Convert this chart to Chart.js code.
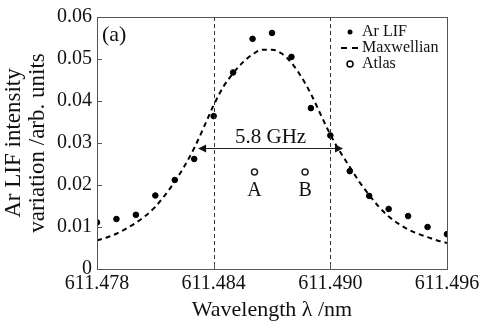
<!DOCTYPE html>
<html>
<head>
<meta charset="utf-8">
<script src="https://cdn.jsdelivr.net/npm/chart.js@4"></script>
<style>
  html, body { margin: 0; padding: 0; background: #fff; }
  #wrap { width: 484px; height: 328px; }
</style>
</head>
<body>
<div id="wrap"><canvas id="c" width="484" height="328"></canvas></div>
<script>
// ---- data ----
const lifWavelength = [611.478, 611.479, 611.480, 611.481, 611.482, 611.483, 611.484, 611.485, 611.486, 611.487,
                       611.488, 611.489, 611.490, 611.491, 611.492, 611.493, 611.494, 611.495, 611.496];
const lifIntensity  = [0.0111, 0.0119, 0.0129, 0.0175, 0.0212, 0.0262, 0.0364, 0.0468, 0.0548, 0.0562,
                       0.0505, 0.0383, 0.0318, 0.0233, 0.0174, 0.0143, 0.0126, 0.0100, 0.0083];

const maxwellWavelength = [611.4780, 611.4785, 611.4790, 611.4795, 611.4800, 611.4805, 611.4810, 611.4815, 611.4820,
                           611.4825, 611.4830, 611.4835, 611.4840, 611.4845, 611.4850, 611.4855, 611.4860, 611.4865,
                           611.4870, 611.4875, 611.4880, 611.4885, 611.4890, 611.4895, 611.4900, 611.4905, 611.4910,
                           611.4915, 611.4920, 611.4925, 611.4930, 611.4935, 611.4940, 611.4945, 611.4950, 611.4955,
                           611.4960];
const maxwellIntensity  = [0.0068, 0.0075, 0.0084, 0.0096, 0.0110, 0.0127, 0.0148, 0.0176, 0.0208,
                           0.0245, 0.0288, 0.0338, 0.0390, 0.0434, 0.0466, 0.0492, 0.0511, 0.0522,
                           0.0522, 0.0513, 0.0491, 0.0458, 0.0417, 0.0368, 0.0320, 0.0279, 0.0243,
                           0.0207, 0.0176, 0.0148, 0.0125, 0.0108, 0.0094, 0.0084, 0.0076, 0.0068,
                           0.0062];

const atlasWavelength = [611.4861, 611.4887];
const atlasIntensity  = [0.0231, 0.0231];
const atlasLabels     = ['A', 'B'];

const markerWavelength = [611.484, 611.490];
const widthLabel = '5.8 GHz';
const widthLevel = 0.0288;
const widthArrowEnds = [611.4832, 611.49065];

const xTickValues = [611.478, 611.484, 611.490, 611.496];
const yTickValues = [0, 0.01, 0.02, 0.03, 0.04, 0.05, 0.06];

const xTitle = 'Wavelength \u03bb /nm';
const yTitle = ['Ar LIF intensity', 'variation /arb. units'];
const panelLabel = '(a)';
const legendLabels = ['Ar LIF', 'Maxwellian', 'Atlas'];

// ---- chart ----
const FONT = "'Liberation Serif', 'Times New Roman', serif";
const INK = '#111';
const AXIS = '#555';

const toXY = (xs, ys) => xs.map((x, i) => ({ x: x, y: ys[i] }));

const overlay = {
  id: 'overlay',
  afterDatasetsDraw(chart) {
    const ctx = chart.ctx;
    const xs = chart.scales.x, ys = chart.scales.y;
    const a = chart.chartArea;
    ctx.save();

    // vertical dashed marker lines
    ctx.strokeStyle = '#333';
    ctx.lineWidth = 1;
    ctx.setLineDash([4, 3]);
    markerWavelength.forEach(w => {
      const px = Math.round(xs.getPixelForValue(w)) + 0.5;
      ctx.beginPath();
      ctx.moveTo(px, a.top);
      ctx.lineTo(px, a.bottom);
      ctx.stroke();
    });
    ctx.setLineDash([]);

    // double arrow
    const ay = Math.round(ys.getPixelForValue(widthLevel)) + 0.5;
    const x1 = xs.getPixelForValue(widthArrowEnds[0]);
    const x2 = xs.getPixelForValue(widthArrowEnds[1]);
    const hl = 8, hw = 4;
    ctx.strokeStyle = '#222';
    ctx.fillStyle = '#111';
    ctx.lineWidth = 1;
    ctx.beginPath();
    ctx.moveTo(x1 + hl, ay);
    ctx.lineTo(x2 - hl, ay);
    ctx.stroke();
    ctx.beginPath();
    ctx.moveTo(x1, ay); ctx.lineTo(x1 + hl, ay - hw); ctx.lineTo(x1 + hl, ay + hw); ctx.closePath();
    ctx.fill();
    ctx.beginPath();
    ctx.moveTo(x2, ay); ctx.lineTo(x2 - hl, ay - hw); ctx.lineTo(x2 - hl, ay + hw); ctx.closePath();
    ctx.fill();

    ctx.fillStyle = INK;
    ctx.font = '21px ' + FONT;
    ctx.textAlign = 'center';
    ctx.textBaseline = 'alphabetic';
    ctx.fillText(widthLabel, (x1 + x2) / 2, ay - 6);

    // A / B labels
    ctx.font = '20px ' + FONT;
    ctx.textBaseline = 'top';
    atlasWavelength.forEach((w, i) => {
      const px = xs.getPixelForValue(w);
      const py = ys.getPixelForValue(atlasIntensity[i]);
      ctx.fillText(atlasLabels[i], px, py + 9);
    });

    // panel label
    ctx.textAlign = 'left';
    ctx.textBaseline = 'middle';
    ctx.font = '22px ' + FONT;
    ctx.fillText(panelLabel, a.left + 5, a.top + 18);

    // legend
    const lx = a.right - 97, tx = a.right - 85;
    const rows = [a.top + 15, a.top + 31, a.top + 47];
    ctx.font = '16px ' + FONT;
    ctx.textBaseline = 'middle';
    rows.forEach((ry, i) => ctx.fillText(legendLabels[i], tx, ry));
    ctx.fillStyle = '#000';
    ctx.beginPath(); ctx.arc(lx, rows[0], 2.5, 0, Math.PI * 2); ctx.fill();
    ctx.strokeStyle = '#000';
    ctx.lineWidth = 2;
    ctx.beginPath();
    ctx.moveTo(lx - 9, rows[1]); ctx.lineTo(lx - 3, rows[1]);
    ctx.moveTo(lx + 2, rows[1]); ctx.lineTo(lx + 8, rows[1]);
    ctx.stroke();
    ctx.lineWidth = 1.5;
    ctx.beginPath(); ctx.arc(lx, rows[2], 3, 0, Math.PI * 2); ctx.stroke();

    // frame
    ctx.strokeStyle = AXIS;
    ctx.lineWidth = 1;
    ctx.strokeRect(Math.round(a.left) + 0.5, Math.round(a.top) + 0.5,
                   Math.round(a.right - a.left), Math.round(a.bottom - a.top));
    // inward ticks
    ctx.beginPath();
    yTickValues.forEach(v => {
      const py = Math.round(ys.getPixelForValue(v)) + 0.5;
      ctx.moveTo(a.left, py); ctx.lineTo(a.left + 5, py);
    });
    xTickValues.forEach(v => {
      const px = Math.round(xs.getPixelForValue(v)) + 0.5;
      ctx.moveTo(px, a.bottom); ctx.lineTo(px, a.bottom - 5);
    });
    ctx.stroke();
    ctx.restore();
  }
};

new Chart(document.getElementById('c'), {
  type: 'scatter',
  data: {
    datasets: [
      {
        label: legendLabels[1],
        type: 'line',
        data: toXY(maxwellWavelength, maxwellIntensity),
        borderColor: '#000',
        borderWidth: 2,
        borderDash: [5, 4],
        pointRadius: 0,
        tension: 0.4,
        cubicInterpolationMode: 'monotone',
        fill: false,
        order: 3
      },
      {
        label: legendLabels[0],
        data: toXY(lifWavelength, lifIntensity),
        backgroundColor: '#000',
        borderColor: '#000',
        pointRadius: 2.8,
        pointHoverRadius: 2.8,
        order: 1
      },
      {
        label: legendLabels[2],
        data: toXY(atlasWavelength, atlasIntensity),
        backgroundColor: 'rgba(0,0,0,0)',
        borderColor: '#222',
        borderWidth: 1.5,
        pointRadius: 3,
        order: 2
      }
    ]
  },
  options: {
    responsive: false,
    animation: false,
    devicePixelRatio: 1,
    layout: { padding: { top: 17, right: 37, left: 0, bottom: 0 } },
    plugins: { legend: { display: false }, tooltip: { enabled: false } },
    scales: {
      x: {
        type: 'linear',
        min: 611.478,
        max: 611.496,
        afterBuildTicks: s => { s.ticks = xTickValues.map(v => ({ value: v })); },
        afterFit: s => { s.height = 59; },
        grid: { display: false, drawTicks: false },
        border: { display: false },
        ticks: {
          padding: 3,
          color: INK,
          font: { family: FONT, size: 20 },
          maxRotation: 0,
          autoSkip: false,
          callback: v => v.toFixed(3)
        },
        title: {
          display: true,
          text: xTitle,
          color: INK,
          font: { family: FONT, size: 22 },
          padding: { top: 0, bottom: 5 }
        }
      },
      y: {
        min: 0,
        max: 0.06,
        afterBuildTicks: s => { s.ticks = yTickValues.map(v => ({ value: v })); },
        afterFit: s => { s.width = 97; },
        grid: { display: false, drawTicks: false },
        border: { display: false },
        ticks: {
          padding: 5,
          color: INK,
          font: { family: FONT, size: 20 },
          callback: v => (v === 0 ? '0' : v.toFixed(2))
        },
        title: {
          display: true,
          text: yTitle,
          color: INK,
          font: { family: FONT, size: 23, lineHeight: 1.05 },
          padding: { top: 2, bottom: 0 }
        }
      }
    }
  },
  plugins: [overlay]
});
</script>
</body>
</html>
